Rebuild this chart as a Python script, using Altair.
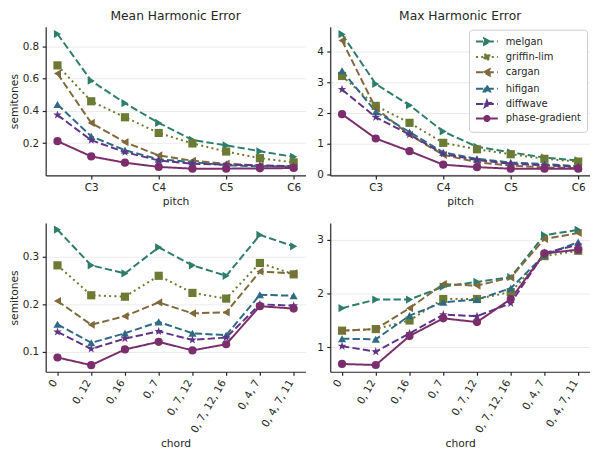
import math
import altair as alt
import pandas as pd

# ---------------- data ----------------
models = ["melgan", "griffin-lim", "cargan", "hifigan", "diffwave", "phase-gradient"]
colors = ["#2e7d6b", "#6b7b34", "#7f6a3b", "#2f6b83", "#5e3586", "#7a2e6b"]

pitches = ["F#2", "C3", "F#3", "C4", "F#4", "C5", "F#5", "C6"]
pitch_ticks = ["C3", "C4", "C5", "C6"]
chords = ["0", "0, 12", "0, 16", "0, 7", "0, 7, 12", "0, 7, 12, 16", "0, 4, 7", "0, 4, 7, 11"]

mean_pitch_melgan = [0.875, 0.586, 0.447, 0.325, 0.220, 0.186, 0.150, 0.115]
mean_pitch_griffin = [0.681, 0.459, 0.360, 0.263, 0.198, 0.148, 0.107, 0.081]
mean_pitch_cargan = [0.630, 0.325, 0.206, 0.124, 0.091, 0.073, 0.061, 0.053]
mean_pitch_hifigan = [0.439, 0.242, 0.156, 0.100, 0.083, 0.063, 0.057, 0.055]
mean_pitch_diffwave = [0.374, 0.218, 0.144, 0.093, 0.073, 0.067, 0.063, 0.057]
mean_pitch_phase = [0.212, 0.118, 0.079, 0.053, 0.042, 0.042, 0.044, 0.046]

max_pitch_melgan = [4.56, 2.94, 2.25, 1.40, 0.90, 0.72, 0.55, 0.46]
max_pitch_griffin = [3.20, 2.23, 1.68, 1.03, 0.82, 0.66, 0.51, 0.42]
max_pitch_cargan = [4.35, 2.15, 1.29, 0.64, 0.40, 0.29, 0.23, 0.21]
max_pitch_hifigan = [3.37, 2.04, 1.38, 0.72, 0.51, 0.39, 0.34, 0.27]
max_pitch_diffwave = [2.76, 1.86, 1.30, 0.67, 0.47, 0.35, 0.30, 0.25]
max_pitch_phase = [1.96, 1.17, 0.76, 0.32, 0.24, 0.19, 0.19, 0.19]

mean_chord_melgan = [0.357, 0.282, 0.265, 0.320, 0.282, 0.260, 0.346, 0.322]
mean_chord_griffin = [0.282, 0.219, 0.216, 0.260, 0.224, 0.212, 0.287, 0.263]
mean_chord_cargan = [0.207, 0.157, 0.175, 0.204, 0.181, 0.183, 0.269, 0.265]
mean_chord_hifigan = [0.158, 0.119, 0.139, 0.163, 0.139, 0.135, 0.220, 0.218]
mean_chord_diffwave = [0.142, 0.106, 0.128, 0.143, 0.125, 0.130, 0.200, 0.197]
mean_chord_phase = [0.088, 0.072, 0.105, 0.121, 0.103, 0.116, 0.196, 0.191]

max_chord_melgan = [1.73, 1.89, 1.89, 2.13, 2.22, 2.31, 3.09, 3.19]
max_chord_griffin = [1.31, 1.34, 1.50, 1.90, 1.90, 2.03, 2.70, 2.80]
max_chord_cargan = [1.31, 1.34, 1.73, 2.18, 2.15, 2.30, 3.02, 3.13]
max_chord_hifigan = [1.16, 1.15, 1.59, 1.84, 1.89, 2.10, 2.72, 2.96]
max_chord_diffwave = [1.02, 0.92, 1.26, 1.61, 1.58, 1.82, 2.76, 2.91]
max_chord_phase = [0.69, 0.67, 1.21, 1.54, 1.47, 1.90, 2.75, 2.82]

mean_pitch = [mean_pitch_melgan, mean_pitch_griffin, mean_pitch_cargan,
              mean_pitch_hifigan, mean_pitch_diffwave, mean_pitch_phase]
max_pitch = [max_pitch_melgan, max_pitch_griffin, max_pitch_cargan,
             max_pitch_hifigan, max_pitch_diffwave, max_pitch_phase]
mean_chord = [mean_chord_melgan, mean_chord_griffin, mean_chord_cargan,
              mean_chord_hifigan, mean_chord_diffwave, mean_chord_phase]
max_chord = [max_chord_melgan, max_chord_griffin, max_chord_cargan,
             max_chord_hifigan, max_chord_diffwave, max_chord_phase]


def table(series, xs, xname):
    rows = []
    for m, vals in zip(models, series):
        for x, v in zip(xs, vals):
            rows.append({"model": m, xname: x, "value": v})
    return pd.DataFrame(rows)


# ---------------- styles ----------------
DASH = [7.4, 3.2]
DOT = [2, 3.3]
dashes = [DASH, DOT, DASH, DASH, DASH, [1, 0]]

STAR = [(0, -1), (0.235, -0.324), (0.951, -0.309), (0.380, 0.124), (0.588, 0.809),
        (0, 0.4), (-0.588, 0.809), (-0.380, 0.124), (-0.951, -0.309), (-0.235, -0.324)]
TRI_R = [(1, 0), (-0.9, -1), (-0.9, 1)]
TRI_L = [(-1, 0), (0.9, -1), (0.9, 1)]
TRI_U = [(0, -1), (1, 0.9), (-1, 0.9)]
SQ = [(-0.8, -0.8), (0.8, -0.8), (0.8, 0.8), (-0.8, 0.8)]


def poly(pts, cx=0.0, s=1.0):
    return "M" + "L".join(f"{cx + x * s:.3f},{y * s:.3f}" for x, y in pts) + "Z"


def circ(cx=0.0, r=1.0):
    return (f"M{cx - r:.3f},0A{r:.3f},{r:.3f},0,1,0,{cx + r:.3f},0"
            f"A{r:.3f},{r:.3f},0,1,0,{cx - r:.3f},0Z")


star_path = poly(STAR, 0, 1.1)
marker_shapes = ["triangle-right", "square", "triangle-left", "triangle-up", star_path, "circle"]

LC, LS = 1.2, 0.64
line_seg = "M-1,0L3.4,0"
legend_shapes = [
    line_seg + poly(TRI_R, LC, LS),
    line_seg + poly(SQ, LC, LS),
    line_seg + poly(TRI_L, LC, LS),
    line_seg + poly(TRI_U, LC, LS),
    line_seg + poly(STAR, LC, LS * 1.05),
    line_seg + circ(LC, LS * 0.8),
]

color_scale = alt.Scale(domain=models, range=colors)
dash_scale = alt.Scale(domain=models, range=dashes)
marker_scale = alt.Scale(domain=models, range=marker_shapes)
legend_shape_scale = alt.Scale(domain=models, range=legend_shapes)

W, H = 262, 150


def panel(df, xname, xaxis, ydomain, yvalues, yfmt, ytitle, title, legend=False):
    x = alt.X(f"{xname}:O", sort=(pitches if xname == "pitch" else chords),
              scale=alt.Scale(type="point", padding=0.35), axis=xaxis)
    y = alt.Y("value:Q", scale=alt.Scale(domain=ydomain, nice=False, zero=False),
              axis=alt.Axis(values=yvalues, format=yfmt, title=ytitle, grid=True))
    base = alt.Chart(df).encode(x=x, y=y)
    lines = base.mark_line(strokeWidth=2).encode(
        color=alt.Color("model:N", scale=color_scale, legend=None),
        strokeDash=alt.StrokeDash("model:N", scale=dash_scale, legend=None),
        detail="model:N",
    )
    points = base.mark_point(filled=True, size=68, opacity=1).encode(
        color=alt.Color("model:N", scale=color_scale, legend=None),
        shape=alt.Shape("model:N", scale=marker_scale, legend=None),
    )
    layers = [lines, points]
    if legend:
        leg = alt.Legend(title=None, orient="top-right", offset=3, padding=6,
                         strokeColor="#cccccc", fillColor="rgba(255,255,255,0.85)",
                         cornerRadius=3, labelFontSize=10, labelColor="#262626",
                         symbolSize=100, symbolOpacity=1, symbolStrokeWidth=2,
                         labelOffset=19, rowPadding=0.5)
        carrier = base.mark_point(filled=True, opacity=0, strokeWidth=2).encode(
            color=alt.Color("model:N", scale=color_scale, legend=leg),
            stroke=alt.Stroke("model:N", scale=color_scale, legend=leg),
            shape=alt.Shape("model:N", scale=legend_shape_scale, legend=leg),
            strokeDash=alt.StrokeDash("model:N", scale=dash_scale, legend=leg),
        )
        layers.append(carrier)
    ch = alt.layer(*layers).properties(width=W, height=H)
    if title:
        ch = ch.properties(title=title)
    if legend:
        ch = ch.resolve_scale(color="independent", shape="independent",
                              strokeDash="independent", stroke="independent")
    return ch


pitch_axis = alt.Axis(values=pitch_ticks, title="pitch", labelAngle=0, grid=False)
chord_axis = alt.Axis(title="chord", labelAngle=-60, grid=False, labelOffset=-3,
                      labelPadding=5, titlePadding=3)

p1 = panel(table(mean_pitch, pitches, "pitch"), "pitch", pitch_axis, [0.0, 0.92],
           [0.2, 0.4, 0.6, 0.8], ".1f", "semitones", "Mean Harmonic Error")
p2 = panel(table(max_pitch, pitches, "pitch"), "pitch", pitch_axis, [-0.03, 4.8],
           [0, 1, 2, 3, 4], "d", None, "Max Harmonic Error", legend=True)
p3 = panel(table(mean_chord, chords, "chord"), "chord", chord_axis, [0.058, 0.371],
           [0.1, 0.2, 0.3], ".1f", "semitones", None)
p4 = panel(table(max_chord, chords, "chord"), "chord", chord_axis, [0.544, 3.316],
           [1, 2, 3], "d", None, None)

chart = alt.vconcat(
    alt.hconcat(p1, p2, spacing=11),
    alt.hconcat(p3, p4, spacing=11),
    spacing=16,
).properties(padding=0).configure(font="DejaVu Sans").configure_view(stroke=None).configure_axis(
    domainColor="#262626", tickColor="#262626", labelColor="#262626", titleColor="#262626",
    labelFontSize=10.5, titleFontSize=10.8, titleFontWeight="normal", tickSize=3.5,
    domainWidth=1.2, tickWidth=1.2, gridColor="#ebebeb", gridWidth=1,
    labelPadding=3.5, titlePadding=3,
).configure_title(fontSize=12.4, fontWeight="normal", color="#262626", offset=4)

chart.save("out.html", embed_options={"renderer": "svg", "actions": False})
